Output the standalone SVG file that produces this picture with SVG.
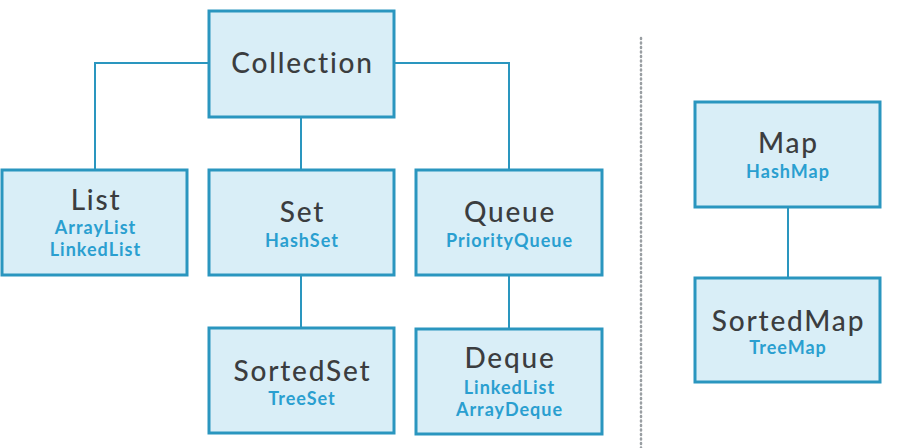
<svg xmlns="http://www.w3.org/2000/svg" width="914" height="448" viewBox="0 0 914 448">
<style>
.box{fill:#d9eef7;stroke:#2a96bf;stroke-width:3}
.t{font-family:Lato,"Noto Sans",sans-serif;font-size:28px;fill:#3b3d3f;text-anchor:middle;font-weight:500;letter-spacing:1.8px}
.s{font-family:Lato,"Noto Sans",sans-serif;font-size:18px;fill:#2a9fd0;text-anchor:middle;font-weight:bold;letter-spacing:1px}
.c{fill:none;stroke:#2a96bf;stroke-width:2}
</style>
<rect width="914" height="448" fill="#ffffff"/>
<line x1="641" y1="38" x2="641" y2="448" stroke="#9a9fa3" stroke-width="2.5" stroke-dasharray="1 3.5" stroke-linecap="round"/>
<g id="connectors">
<path class="c" d="M209 63 H95 V170"/>
<path class="c" d="M394 63 H509 V170"/>
<path class="c" d="M301 117 V170"/>
<path class="c" d="M301 275 V328"/>
<path class="c" d="M509 275 V329"/>
<path class="c" d="M788 207 V278"/>
</g>
<g id="collection"><rect class="box" x="209" y="11" width="185" height="106"/><text class="t" x="302.5" y="73">Collection</text></g>
<g id="list"><rect class="box" x="2" y="170" width="185" height="105"/><text class="t" x="96" y="210">List</text><text class="s" x="95.5" y="234">ArrayList</text><text class="s" x="95.5" y="256">LinkedList</text></g>
<g id="set"><rect class="box" x="209" y="170" width="185" height="105"/><text class="t" x="302.5" y="222">Set</text><text class="s" x="302" y="247">HashSet</text></g>
<g id="queue"><rect class="box" x="416" y="170" width="186" height="105"/><text class="t" x="510" y="222">Queue</text><text class="s" x="509.5" y="247">PriorityQueue</text></g>
<g id="sortedset"><rect class="box" x="209" y="328" width="185" height="105"/><text class="t" x="302.5" y="381">SortedSet</text><text class="s" x="302" y="405">TreeSet</text></g>
<g id="deque"><rect class="box" x="416" y="329" width="186" height="105"/><text class="t" x="510" y="368">Deque</text><text class="s" x="509.5" y="394">LinkedList</text><text class="s" x="509.5" y="416">ArrayDeque</text></g>
<g id="map"><rect class="box" x="695" y="102" width="185" height="105"/><text class="t" x="788.5" y="153">Map</text><text class="s" x="788" y="178">HashMap</text></g>
<g id="sortedmap"><rect class="box" x="695" y="278" width="185" height="104"/><text class="t" x="788.5" y="331">SortedMap</text><text class="s" x="788" y="354">TreeMap</text></g>
</svg>
